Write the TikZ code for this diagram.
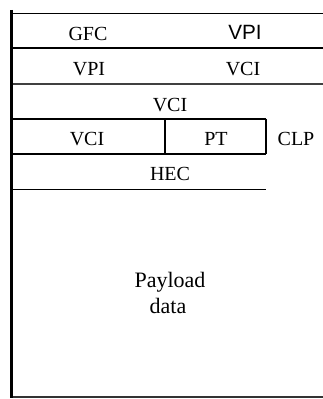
\documentclass[tikz,border=0pt]{standalone}
\usepackage{fontspec}
\setmainfont{Liberation Serif}
\newfontfamily\sansf{Liberation Sans}
\begin{document}
\begin{tikzpicture}[x=0.75pt,y=-0.75pt,
  lbl/.style={font=\fontsize{15}{17}\selectfont, inner sep=0pt, anchor=base},
  slbl/.style={font=\sansf\fontsize{15.5}{17}\selectfont, inner sep=0pt, anchor=base},
  thin/.style={line width=0.9pt},
  mid/.style={line width=1.4pt}]
\useasboundingbox (0,0) rectangle (323,399);
% horizontal lines
\draw[line width=1pt] (11,13.5) -- (323,13.5);
\draw[mid] (11,48) -- (323,48);
\draw[mid, draw=black!75] (11,84) -- (323,84);
\draw[thin] (11,119) -- (266,119);
\draw[thin] (11,154) -- (266,154);
\draw[thin] (11,189.5) -- (266,189.5);
\draw[line width=1.1pt, draw=black!80] (11,397) -- (323,397);
% verticals
\draw[thin] (165,119) -- (165,154);
\draw[thin] (266,119) -- (266,154);
\draw[line width=2pt] (11.5,10) -- (11.5,398);
% texts
\node[lbl] (gfc) at (88,41) {GFC};
\node[slbl] (vpi1) at (245,40) {VPI};
\node[lbl] (vpi2) at (89,76) {VPI};
\node[lbl] (vci1) at (243,76) {VCI};
\node[lbl] (vci2) at (170,112) {VCI};
\node[lbl] (vci3) at (87,145) {VCI};
\node[lbl] (pt) at (216,145) {PT};
\node[lbl] (clp) at (296,145) {CLP};
\node[lbl] (hec) at (170,180) {HEC};
\node[font=\fontsize{16.5}{19.5}\selectfont, inner sep=0pt, anchor=base] (pay) at (170,287) {Payload};
\node[font=\fontsize{16.5}{19.5}\selectfont, inner sep=0pt, anchor=base] (dat) at (168,313) {data};
\end{tikzpicture}
\end{document}
